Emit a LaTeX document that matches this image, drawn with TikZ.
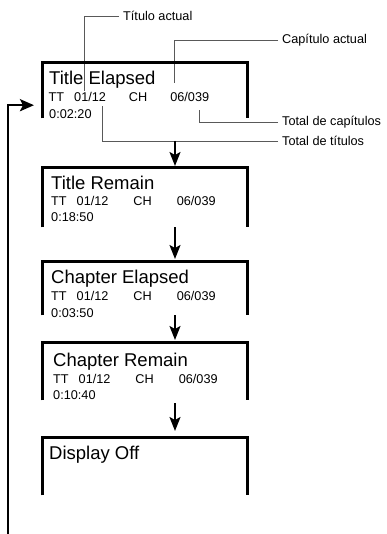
\documentclass[tikz,border=0pt]{standalone}
\usepackage{fontspec}
\setmainfont{Liberation Sans}
\usetikzlibrary{arrows.meta,calc}

\newcommand{\infoline}[1]{TT\hspace{10pt}01/12\hspace{#1}CH\hspace{#1}06/039}

\begin{document}
\begin{tikzpicture}[
    x=1pt, y=-1pt,
    every node/.style={inner sep=0pt},
    ttl/.style    ={anchor=base west,font=\fontsize{18.5}{20}\selectfont},
    info/.style   ={anchor=base west,font=\fontsize{12.7}{14}\selectfont},
    note/.style   ={anchor=west,inner sep=4pt,font=\fontsize{12.7}{14}\selectfont},
    screen/.style ={anchor=north west,minimum width=205pt},
    frame/.style  ={line width=3pt},
    flow/.style   ={line width=2pt,shorten >=2pt,-{Stealth[length=14pt,width=11pt,inset=3pt]}},
    back/.style   ={line width=2.5pt,-{Stealth[length=14pt,width=12pt,inset=3pt]}},
    callout/.style={black!65,line width=0.9pt},
  ]
  \useasboundingbox (0,0) rectangle (386,534);

  % screens (open at the bottom)
  \node[screen,minimum height=55pt] (s1) at (42,63)  {};
  \node[screen,minimum height=59pt] (s2) at (42,168) {};
  \node[screen,minimum height=54pt] (s3) at (42,261) {};
  \node[screen,minimum height=58pt] (s4) at (42,342) {};
  \node[screen,minimum height=58pt] (s5) at (42,437) {};

  % screen texts
  \node[ttl]  (s1title) at (49,85)    {Title Elapsed};
  \node[info] (s1info)  at (48.5,102) {\infoline{23pt}};
  \node[info] (s1time)  at (49,119)   {0:02:20};

  \node[ttl]  (s2title) at (51,190) {Title Remain};
  \node[info] (s2info)  at (51,206) {\infoline{25pt}};
  \node[info] (s2time)  at (51,222) {0:18:50};

  \node[ttl]  (s3title) at (51,283) {Chapter Elapsed};
  \node[info] (s3info)  at (51,300) {\infoline{25pt}};
  \node[info] (s3time)  at (51,317) {0:03:50};

  \node[ttl]  (s4title) at (53,366) {Chapter Remain};
  \node[info] (s4info)  at (53,383) {\infoline{25pt}};
  \node[info] (s4time)  at (53,399) {0:10:40};

  \node[ttl]  (s5title) at (49,459) {Display Off};

  % callouts on the first screen
  \coordinate (ptTitulo) at (84,91);
  \coordinate (ptCap)    at (174,83);
  \coordinate (ptTotCap) at (199,110);
  \coordinate (ptTotTit) at (102,106);
  \node[note] (lblTitulo) at (119,16)  {Título actual};
  \node[note] (lblCap)    at (278,40)  {Capítulo actual};
  \node[note] (lblTotCap) at (278,122) {Total de capítulos};
  \node[note] (lblTotTit) at (278,141) {Total de títulos};
  \draw[callout] (lblTitulo.west) -| (ptTitulo);
  \draw[callout] (lblCap.west)    -| (ptCap);
  \draw[callout] (lblTotCap.west) -| (ptTotCap);
  \draw[callout] (lblTotTit.west) -| (ptTotTit);

  % frames
  \foreach \n in {1,...,5}
    \draw[frame] (s\n.south west) -- (s\n.north west) -- (s\n.north east) -- (s\n.south east);

  % arrows between screens
  \coordinate (col) at (175,0);
  \draw[flow] (col |- lblTotTit.west) -- (col |- s2.north);
  \draw[flow] (col |- s2.south) -- (col |- s3.north);
  \draw[flow] (col |- s3.south) -- (col |- s4.north);
  \draw[flow,shorten <=3pt,shorten >=6pt] (col |- s4.south) -- (col |- s5.north);

  % back to the first screen
  \coordinate (backfoot) at (8,534);
  \draw[back,shorten >=8pt] (backfoot) |- ([yshift=-14.5pt]s1.west);
\end{tikzpicture}
\end{document}
